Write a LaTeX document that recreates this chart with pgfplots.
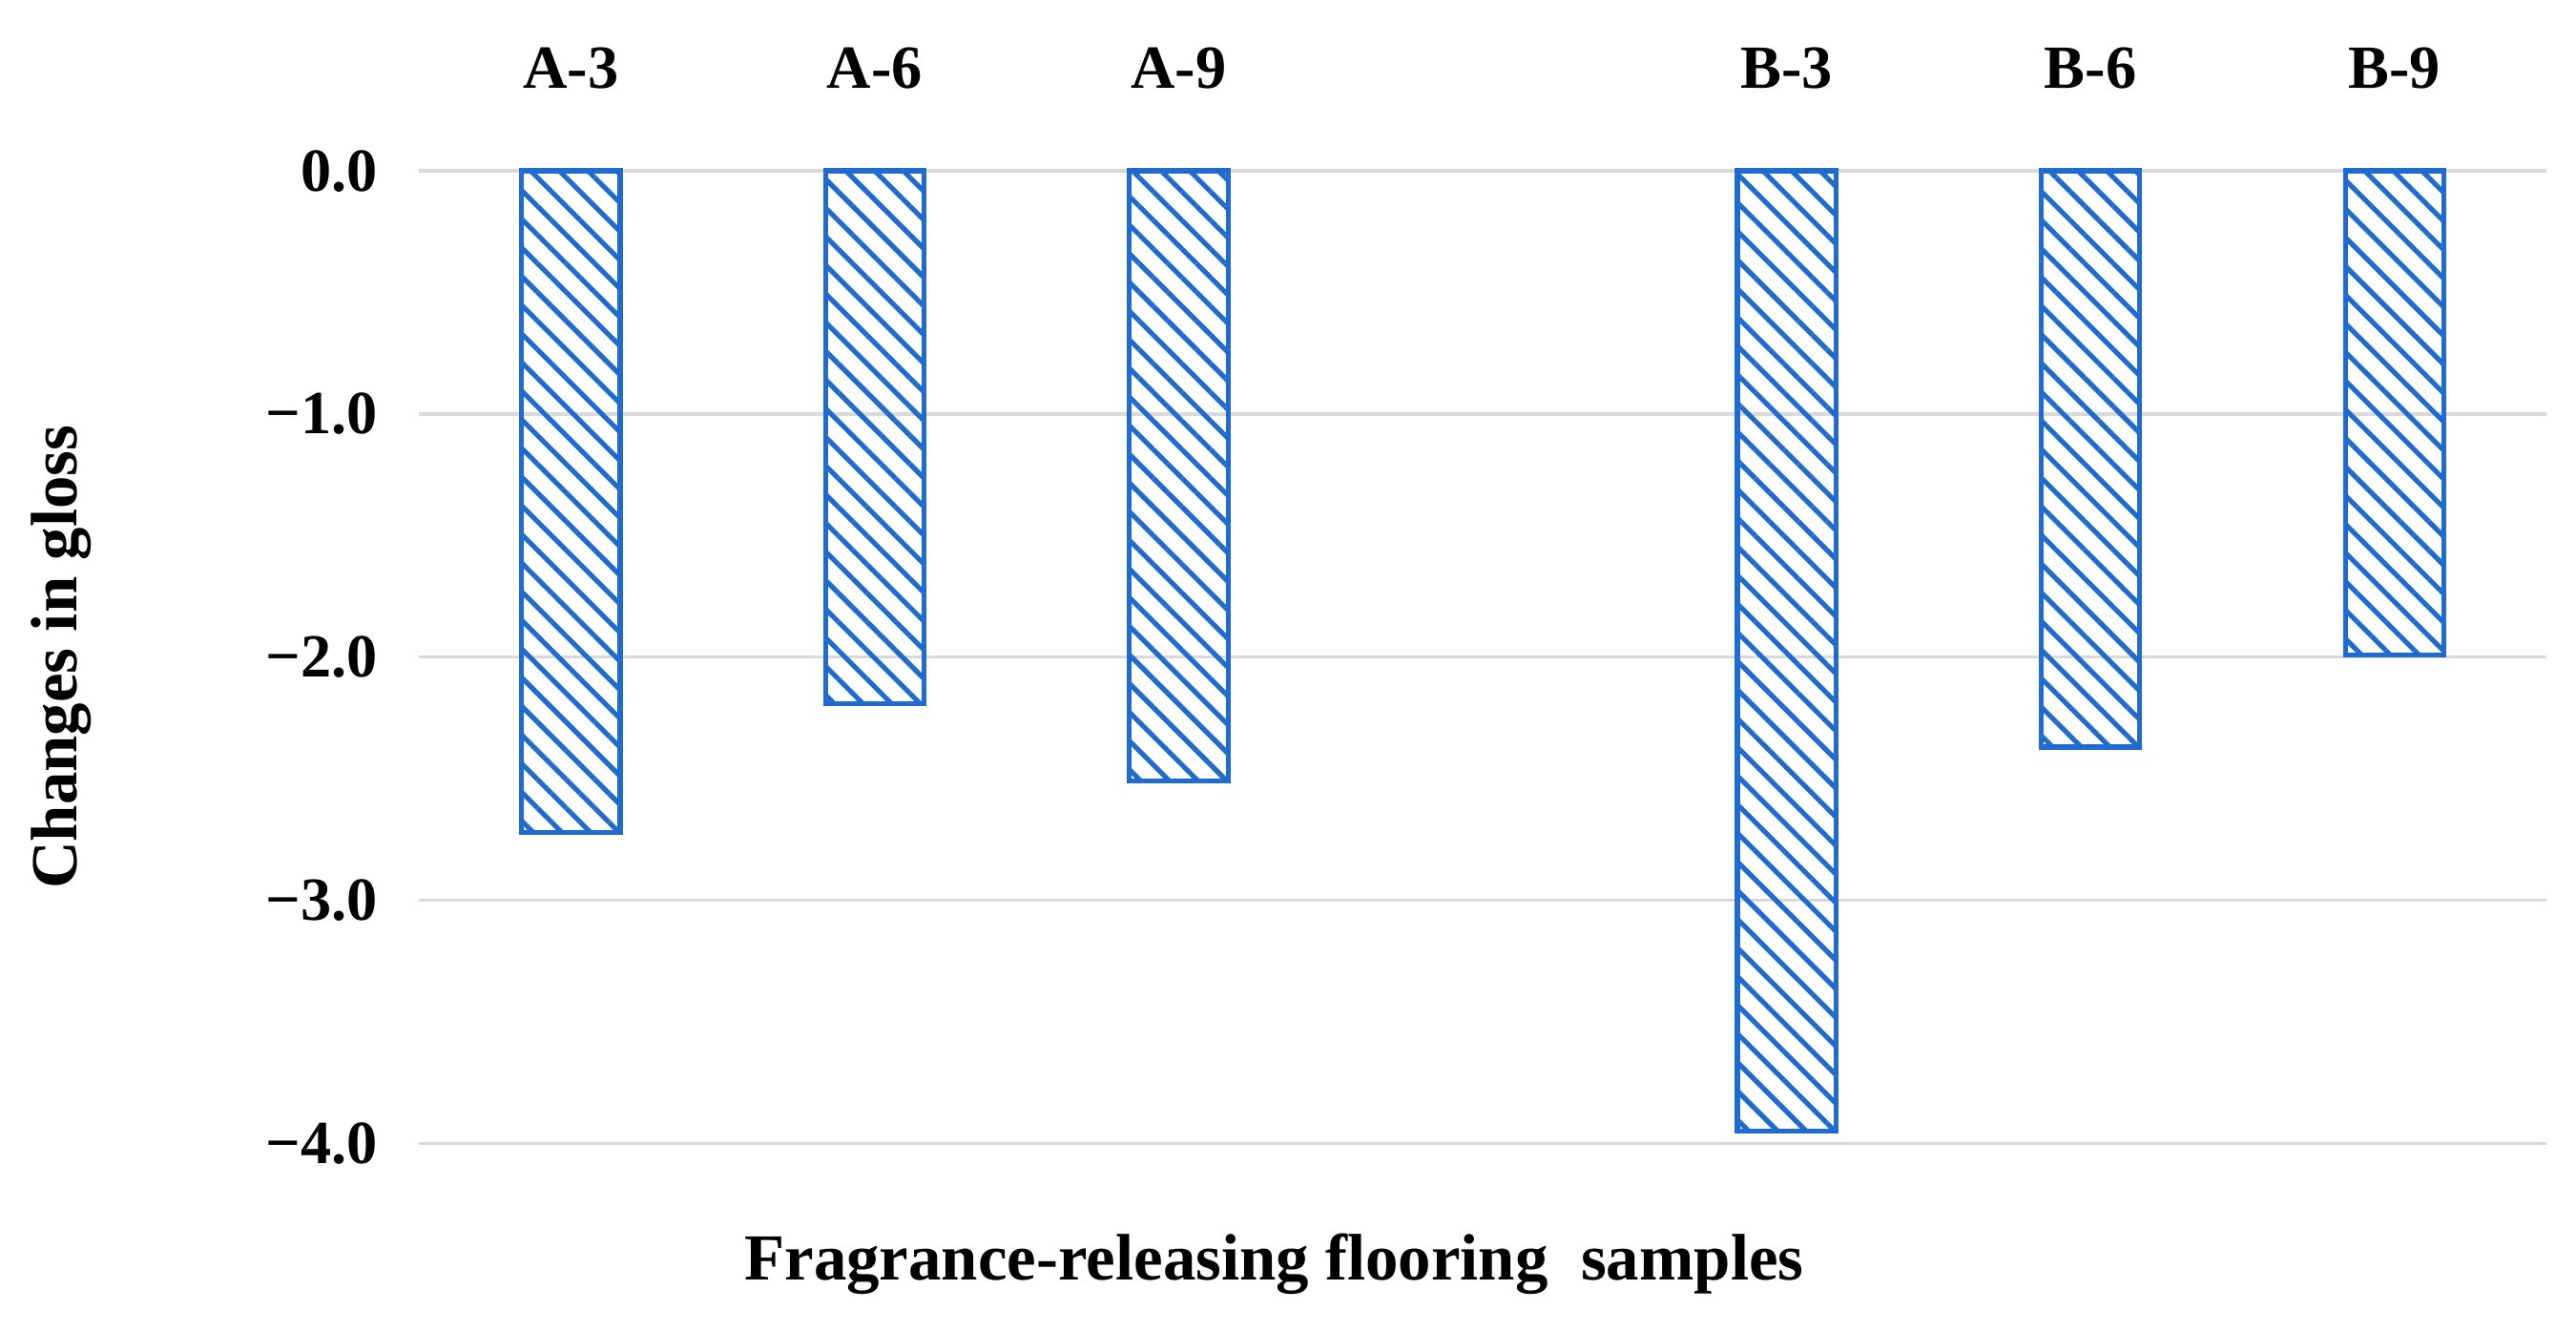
\documentclass[border=0pt]{standalone}
\usepackage{fontspec}
\setmainfont{Liberation Serif}
\usepackage{pgfplots}
\pgfplotsset{compat=1.18}
\usetikzlibrary{patterns.meta}
\definecolor{barblue}{HTML}{1F6BCF}
\definecolor{gridgray}{HTML}{D9D9D9}
\begin{document}
\begin{tikzpicture}
\begin{axis}[
  scale only axis,
  width=388.5pt, height=177.6pt,
  xmin=-0.5, xmax=6.5,
  ymin=-4, ymax=0,
  axis line style={draw=none},
  clip=false,
  xtick={0,1,2,4,5,6},
  xticklabels={A-3,A-6,A-9,B-3,B-6,B-9},
  xticklabel pos=top,
  ytick={-4,-3,-2,-1,0},
  yticklabels={−4.0,−3.0,−2.0,−1.0,0.0},
  major tick length=0pt,
  tick style={draw=none},
  tick label style={font=\fontsize{11.2}{13}\selectfont\bfseries},
  xticklabel style={yshift=11.5pt},
  yticklabel style={xshift=-4pt},
  label style={font=\fontsize{12}{14}\selectfont\bfseries},
  xlabel={Fragrance-releasing flooring\ \ samples},
  xlabel style={at={(axis description cs:0.402,0)}, anchor=center, yshift=-22pt},
  ylabel={Changes in gloss},
  ylabel style={at={(axis description cs:-0.168,0.5)}, anchor=center},
]
\pgfplotsextra{
  \foreach \yy in {-4,-3,-2,-1,0} {
    \draw[gridgray, line width=0.6pt] (axis cs:-0.5,\yy) -- (axis cs:6.5,\yy);
  }
}
\addplot[ybar, bar width=18pt, draw=barblue, line width=0.9pt,
  pattern={Lines[angle=-45,distance=3.7pt,line width=0.9pt]}, pattern color=barblue]
  coordinates {(0,-2.72) (1,-2.19) (2,-2.51) (4,-3.95) (5,-2.37) (6,-1.99)};
\path (axis description cs:-0.1969,1.1757) rectangle (axis description cs:1.0139,-0.1926);
\end{axis}
\end{tikzpicture}
\end{document}
